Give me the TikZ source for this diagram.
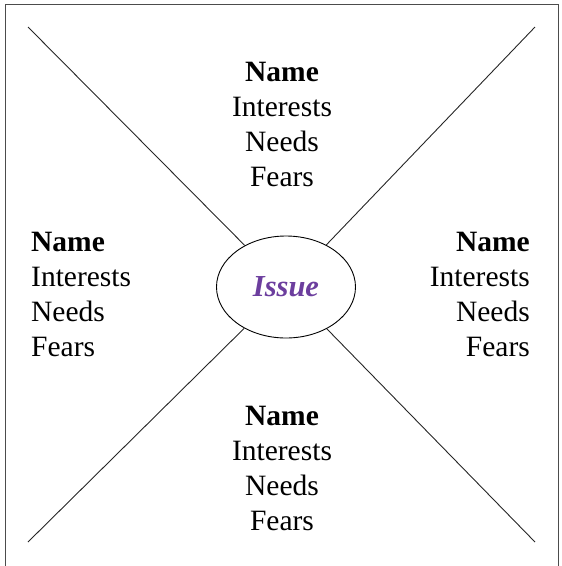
\documentclass[tikz,border=0pt]{standalone}
\usepackage{fontspec}
\setmainfont{Liberation Serif}
\usepackage{tikz}
\usetikzlibrary{positioning,shapes.geometric}
\definecolor{issuepurple}{RGB}{108,62,158}

\begin{document}
\begin{tikzpicture}[x=1pt,y=-1pt,
    party/.style={font=\fontsize{29.5}{35}\selectfont, inner sep=0pt},
    spoke/.style={draw, line width=0.9pt, black!85}]
    \useasboundingbox (0,0) rectangle (562,566);
    \draw [line width=1.6pt, black!70] (5.5,4.5) rectangle (558.5,590);

    \node [ellipse, draw, line width=0.9pt, minimum width=139pt, minimum height=102pt,
           font=\fontsize{30.5}{32}\selectfont\bfseries\itshape, text=issuepurple] (issue) at (286,287) {Issue};

    \node [party, align=center] (top) at (282,124) {\textbf{Name}\\Interests\\Needs\\Fears};
    \node [party, align=left, anchor=west] (left) at (31,294) {\textbf{Name}\\Interests\\Needs\\Fears};
    \node [party, align=right, anchor=east] (right) at (530,294) {\textbf{Name}\\Interests\\Needs\\Fears};
    \node [party, align=center] (bottom) at (282,468) {\textbf{Name}\\Interests\\Needs\\Fears};

    \coordinate (tl) at (28,27);
    \coordinate (tr) at (535,27);
    \coordinate (bl) at (28,542);
    \coordinate (br) at (535,542);

    \draw [spoke] (tl) -- (issue);
    \draw [spoke] (tr) -- (issue);
    \draw [spoke] (bl) -- (issue);
    \draw [spoke] (br) -- (issue);
\end{tikzpicture}
\end{document}
